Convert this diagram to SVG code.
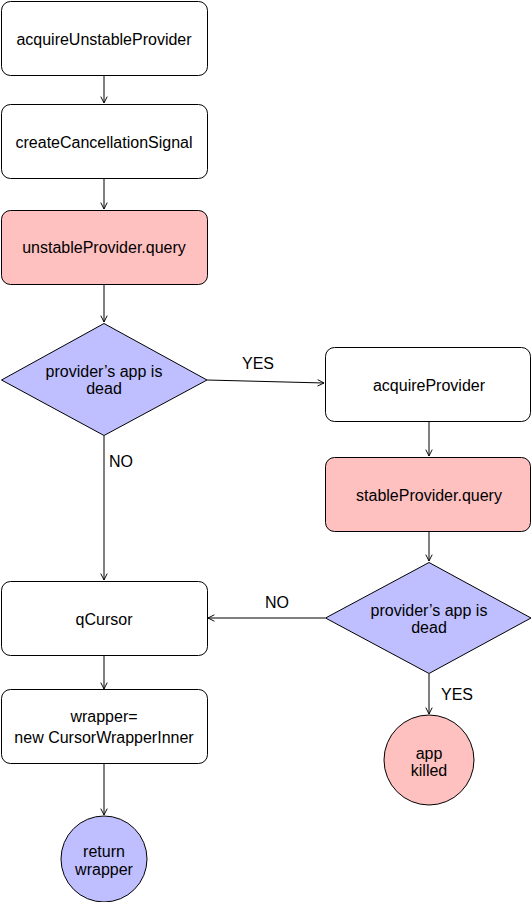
<svg xmlns="http://www.w3.org/2000/svg" width="532" height="902" viewBox="0 0 532 902">
<defs>
<style>
.box{fill:#fff;stroke:#000;stroke-width:1}
.pink{fill:#FFC0C0;stroke:#000;stroke-width:1}
.blue{fill:#BFBFFF;stroke:#000;stroke-width:1}
text{font-family:"Liberation Sans",Arial,Helvetica,sans-serif;font-size:16px;fill:#000;text-anchor:middle}
.edge{fill:none;stroke:#000;stroke-width:1}
</style>
<marker id="arr" viewBox="0 0 10 10" refX="9" refY="5" markerWidth="8" markerHeight="8" markerUnits="userSpaceOnUse" orient="auto">
<path d="M1,1 L9,5 L1,9" fill="none" stroke="#000" stroke-width="1.2"/>
</marker>
</defs>
<rect width="532" height="902" fill="#fff"/>
<g id="edges">
<path class="edge" d="M104,75 V103" marker-end="url(#arr)"/>
<path class="edge" d="M104,179 V209" marker-end="url(#arr)"/>
<path class="edge" d="M104,285 V322" marker-end="url(#arr)"/>
<path class="edge" d="M207,380 L324,383" marker-end="url(#arr)"/>
<text x="258" y="369">YES</text>
<path class="edge" d="M104,436 V580" marker-end="url(#arr)"/>
<text x="121" y="467">NO</text>
<path class="edge" d="M429,422 V456" marker-end="url(#arr)"/>
<path class="edge" d="M429,532 V561" marker-end="url(#arr)"/>
<path class="edge" d="M325,618 H208" marker-end="url(#arr)"/>
<text x="277" y="608">NO</text>
<path class="edge" d="M429,674 V714" marker-end="url(#arr)"/>
<text x="457" y="700">YES</text>
<path class="edge" d="M104,656 V689" marker-end="url(#arr)"/>
<path class="edge" d="M104,764 V815" marker-end="url(#arr)"/>
</g>
<g id="acquireUnstableProvider">
<rect class="box" x="1.5" y="1.5" width="206" height="74" rx="9"/>
<text x="104" y="45">acquireUnstableProvider</text>
</g>
<g id="createCancellationSignal">
<rect class="box" x="1.5" y="104.5" width="206" height="74" rx="9"/>
<text x="104" y="148">createCancellationSignal</text>
</g>
<g id="unstableQuery">
<rect class="pink" x="1.5" y="210.5" width="206" height="74" rx="9"/>
<text x="104" y="253">unstableProvider.query</text>
</g>
<g id="decision1">
<polygon class="blue" points="104,323.5 207,380 104,435.5 1.5,380"/>
<text x="104" y="377">provider’s app is</text>
<text x="104" y="394">dead</text>
</g>
<g id="acquireProvider">
<rect class="box" x="325.5" y="347.5" width="205" height="74" rx="9"/>
<text x="429" y="391">acquireProvider</text>
</g>
<g id="stableQuery">
<rect class="pink" x="325.5" y="457.5" width="205" height="74" rx="9"/>
<text x="429" y="501">stableProvider.query</text>
</g>
<g id="decision2">
<polygon class="blue" points="429,562.5 531,618 429,673.5 325.5,618"/>
<text x="429" y="616">provider’s app is</text>
<text x="429" y="633">dead</text>
</g>
<g id="appKilled">
<circle class="pink" cx="429" cy="760" r="45"/>
<text x="429" y="759">app</text>
<text x="429" y="776">killed</text>
</g>
<g id="qCursor">
<rect class="box" x="1.5" y="581.5" width="206" height="74" rx="9"/>
<text x="104" y="625">qCursor</text>
</g>
<g id="wrapper">
<rect class="box" x="1.5" y="689.5" width="206" height="74" rx="9"/>
<text x="104" y="722">wrapper=</text>
<text x="104" y="743">new CursorWrapperInner</text>
</g>
<g id="returnWrapper">
<circle class="blue" cx="104" cy="859" r="43"/>
<text x="104" y="857">return</text>
<text x="104" y="875">wrapper</text>
</g>
</svg>
